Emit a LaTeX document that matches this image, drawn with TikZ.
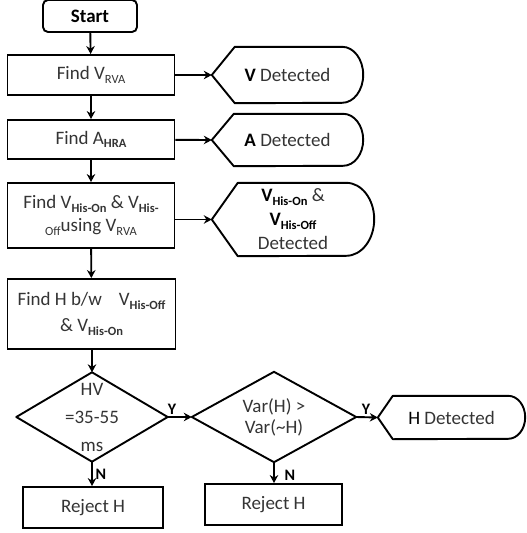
\documentclass[tikz,border=0pt]{standalone}
\usepackage{fontspec}
\setmainfont{Carlito}
\usetikzlibrary{arrows.meta,calc}
\definecolor{txt}{RGB}{52,52,52}
\newcommand\lowsub[1]{\raisebox{-0.4ex}{\fontsize{12.5}{13}\selectfont #1}}
\newcommand\lowsubb[1]{\raisebox{-0.4ex}{\fontsize{12.5}{13}\selectfont\bfseries #1}}
\newcommand\dispdraw[4]{%
  \draw[line width=1.9pt, line join=round] (#1.west) -- ($(#1.north west)+(#2pt,0)$) -- ($(#1.north east)+(-#3pt,0)$)
    arc[start angle=90,end angle=-90,x radius=#3pt,y radius=#4pt] -- ($(#1.south west)+(#2pt,0)$) -- cycle;}
\tikzset{
  base/.style={inner sep=0pt, align=center, text=txt, font=\fontsize{19}{23}\selectfont},
  proc/.style={base, draw, line width=1.9pt},
  disp/.style={base},
  dia/.style={base},
  flow/.style={line width=1.9pt, -{Stealth[length=8pt,width=8.5pt]}},
  lbl/.style={inner sep=0pt, font=\fontsize{16}{16}\selectfont\bfseries}
}
\begin{document}
\begin{tikzpicture}[x=1pt,y=-1pt]
\useasboundingbox (0,0) rectangle (527,533);
% main column
\node[proc, rounded corners=5pt, minimum width=94pt, minimum height=32pt, text=black] (start) at (90,16) {\textbf{Start}};
\node[proc, minimum width=167pt, minimum height=40pt] (b1) at (91,75) {Find V\lowsub{RVA}};
\node[proc, minimum width=167pt, minimum height=39pt] (b2) at (91,139.5) {Find A\lowsubb{HRA}};
\node[proc, minimum width=167pt, minimum height=65pt] (b3) at (91,215.5) {Find V\lowsubb{His-On} \& V\lowsubb{His-}\\\lowsub{Off}using V\lowsub{RVA}};
\node[proc, minimum width=168pt, minimum height=70pt, font=\fontsize{19}{26}\selectfont] (b4) at (91.5,314) {Find H b/w\enspace\, V\lowsubb{His-Off}\\\& V\lowsubb{His-On}};
% diamonds
\node[dia, minimum width=151pt, minimum height=89pt, font=\fontsize{19}{28}\selectfont] (d1) at (92,417) {HV\\=35-55\\ms};
\draw[line width=1.9pt, line join=round] (d1.north) -- (d1.east) -- (d1.south) -- (d1.west) -- cycle;
\node[dia, minimum width=164pt, minimum height=90pt, font=\fontsize{19}{21}\selectfont] (d2) at (274,417) {Var(H) >\\Var(\textasciitilde H)};
\draw[line width=1.9pt, line join=round] (d2.north) -- (d2.east) -- (d2.south) -- (d2.west) -- cycle;
% reject boxes
\node[proc, minimum width=140pt, minimum height=41pt] (r1) at (93,507.5) {Reject H};
\node[proc, minimum width=137pt, minimum height=41pt] (r2) at (273.5,504.5) {Reject H};
% displays
\node[disp, minimum width=151pt, minimum height=56pt] (vd) at (287.5,75) {\textcolor{black}{\textbf{V}} Detected};
\dispdraw{vd}{23}{21}{28}
\node[disp, minimum width=151pt, minimum height=52pt] (ad) at (287.5,140) {\textcolor{black}{\textbf{A}} Detected};
\dispdraw{ad}{22}{20}{26}
\node[disp, minimum width=162pt, minimum height=73pt, font=\fontsize{19}{24}\selectfont] (hd) at (293,219.5) {\textcolor{black}{\textbf{V\lowsub{His-On}}} \&\\\textcolor{black}{\textbf{V\lowsub{His-Off}}}\\Detected};
\dispdraw{hd}{26}{28}{36.5}
\node[disp, minimum width=147pt, minimum height=43pt] (hdet) at (451.5,417.5) {\textcolor{black}{H} Detected};
\dispdraw{hdet}{15}{17}{21.5}
% connectors
\draw[flow] (start) -- (b1);
\draw[flow] (b1) -- (b2);
\draw[flow] (b2) -- (b3);
\draw[flow] (b3) -- (b4);
\draw[flow] (b4.south -| d1.north) -- (d1.north);
\draw[flow] (b1) -- (vd.west);
\draw[flow] (b2) -- (ad.west);
\draw[flow] (hd.west -| b3.east) -- (hd.west);
\draw[flow] (d1.east) -- (d2.west);
\draw[flow] (d2.east) -- (hdet.west);
\draw[flow] (d1.south) -- (d1.south |- r1.north);
\draw[flow] (d2.south) -- (d2.south |- r2.north);
% labels
\node[lbl] (y1) at (172,409) {Y};
\node[lbl] (y2) at (366,409) {Y};
\node[lbl] (n1) at (101,474) {N};
\node[lbl] (n2) at (290,475) {N};
\end{tikzpicture}
\end{document}
